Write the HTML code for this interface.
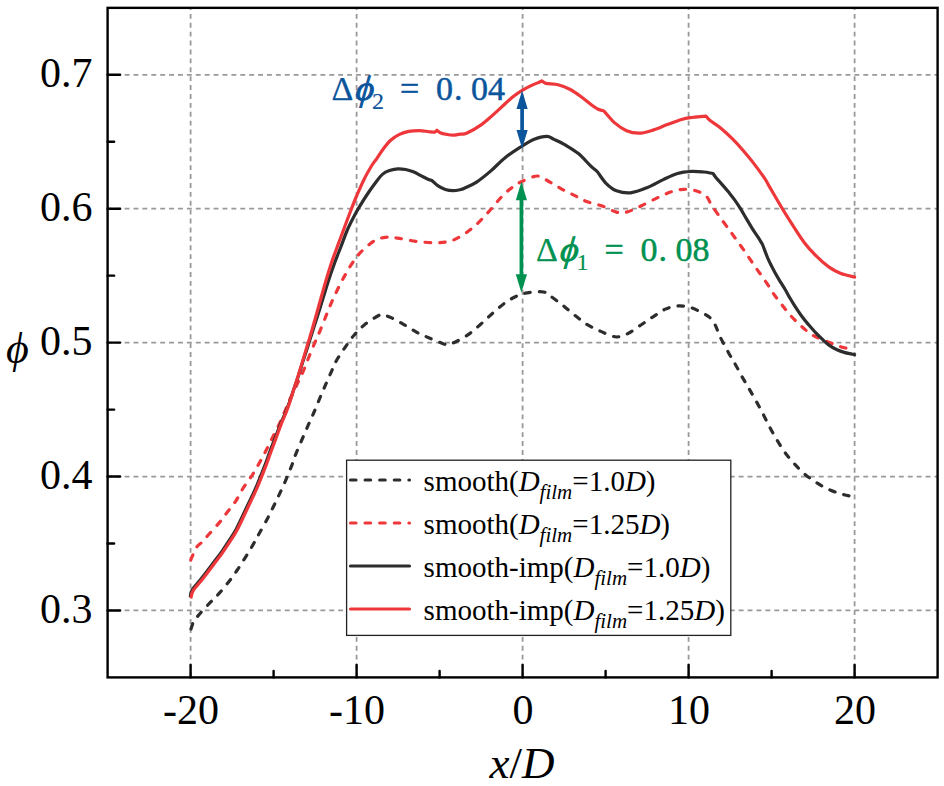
<!DOCTYPE html><html><head><meta charset="utf-8"><style>html,body{margin:0;padding:0;background:#fff;width:944px;height:786px;overflow:hidden}svg{display:block}text{font-family:"Liberation Serif",serif}</style></head><body>
<svg width="944" height="786" viewBox="0 0 944 786">
<rect width="944" height="786" fill="#fff"/>
<g stroke="#999999" stroke-width="1.8" stroke-dasharray="4.9 4.0" fill="none"><line x1="190.60" y1="677.40" x2="190.60" y2="7.85"/><line x1="356.60" y1="677.40" x2="356.60" y2="7.85"/><line x1="522.60" y1="677.40" x2="522.60" y2="7.85"/><line x1="688.60" y1="677.40" x2="688.60" y2="7.85"/><line x1="854.60" y1="677.40" x2="854.60" y2="7.85"/><line x1="107.60" y1="610.45" x2="937.60" y2="610.45" stroke-dashoffset="0.8"/><line x1="107.60" y1="476.53" x2="937.60" y2="476.53" stroke-dashoffset="0.8"/><line x1="107.60" y1="342.62" x2="937.60" y2="342.62" stroke-dashoffset="0.8"/><line x1="107.60" y1="208.72" x2="937.60" y2="208.72" stroke-dashoffset="0.8"/><line x1="107.60" y1="74.81" x2="937.60" y2="74.81" stroke-dashoffset="0.8"/></g>
<g fill="none" stroke-width="3.2" stroke-linecap="round" stroke-linejoin="round">
<path d="M191.0,629.0 C191.4,627.8 192.1,624.5 193.5,622.0 C194.9,619.5 196.8,617.3 199.6,614.0 C202.4,610.7 207.1,605.8 210.3,602.4 C213.6,599.0 216.1,596.8 219.1,593.4 C222.1,590.0 225.6,585.8 228.6,582.0 C231.6,578.2 234.2,574.5 236.9,570.5 C239.7,566.5 242.4,562.0 245.1,557.8 C247.8,553.6 250.5,549.1 252.8,545.1 C255.1,541.1 256.6,538.2 259.1,533.7 C261.6,529.2 265.3,522.6 267.8,517.9 C270.3,513.1 272.1,509.3 274.1,505.2 C276.1,501.1 277.9,497.5 279.9,493.1 C281.9,488.8 284.2,483.8 286.2,479.1 C288.2,474.4 290.3,469.2 291.9,465.1 C293.5,461.0 294.0,458.6 295.7,454.3 C297.4,450.0 299.9,444.4 302.0,439.5 C304.1,434.6 306.4,429.3 308.4,424.7 C310.4,420.1 312.2,416.4 314.1,412.0 C316.0,407.6 318.0,402.6 319.9,398.0 C321.8,393.4 323.7,389.1 325.6,384.7 C327.5,380.3 329.5,375.9 331.3,371.9 C333.1,367.9 334.2,364.6 336.5,360.5 C338.8,356.4 342.4,351.4 345.3,347.1 C348.2,342.9 351.0,338.7 354.2,335.0 C357.4,331.3 360.4,328.1 364.3,324.9 C368.2,321.7 374.7,317.7 377.7,316.0 C380.7,314.3 379.8,314.4 382.1,314.7 C384.4,315.0 388.0,316.2 391.7,317.9 C395.4,319.6 400.2,322.5 404.4,324.9 C408.6,327.3 412.9,330.3 417.1,332.5 C421.3,334.7 425.4,336.3 429.8,338.2 C434.2,340.1 440.8,342.8 443.8,343.9 C446.9,344.9 446.0,344.9 448.1,344.5 C450.2,344.1 452.9,343.2 456.3,341.5 C459.7,339.8 464.4,337.3 468.5,334.4 C472.6,331.5 476.6,327.8 480.7,324.2 C484.8,320.6 488.8,316.6 492.9,313.0 C497.0,309.4 501.4,305.5 505.1,302.8 C508.8,300.1 512.2,298.2 515.3,296.7 C518.4,295.2 520.5,294.4 523.5,293.6 C526.5,292.8 530.2,292.3 533.6,292.0 C537.0,291.7 541.1,291.4 543.8,292.0 C546.5,292.6 546.8,293.6 549.9,295.7 C553.0,297.8 558.0,301.6 562.1,304.8 C566.2,308.0 570.3,311.8 574.4,315.0 C578.5,318.2 582.3,321.5 586.6,324.2 C590.9,326.9 595.9,329.1 600.2,331.1 C604.5,333.1 609.4,335.2 612.4,336.2 C615.4,337.1 615.8,337.3 618.5,336.8 C621.2,336.3 625.0,335.1 628.7,333.1 C632.4,331.1 636.8,327.7 640.9,325.0 C645.0,322.3 649.0,319.4 653.1,316.8 C657.2,314.2 661.2,310.9 665.3,309.1 C669.4,307.3 673.4,306.3 677.5,306.0 C681.6,305.7 685.6,306.2 689.7,307.3 C693.8,308.4 698.6,310.9 702.0,312.7 C705.4,314.4 707.9,315.8 710.1,317.8 C712.3,319.9 713.5,321.8 715.2,325.0 C716.9,328.2 718.1,332.6 720.3,337.2 C722.5,341.8 725.9,347.8 728.4,352.4 C730.9,357.0 733.1,360.4 735.5,364.7 C737.9,368.9 740.4,373.8 742.7,377.9 C745.1,382.0 747.3,385.6 749.6,389.6 C751.9,393.6 754.3,397.8 756.7,402.1 C759.1,406.4 761.6,411.1 763.8,415.4 C766.0,419.7 767.9,423.7 770.1,427.9 C772.3,432.1 774.7,436.2 777.2,440.4 C779.7,444.5 782.4,448.9 785.2,452.8 C788.0,456.7 790.8,459.9 794.1,463.5 C797.4,467.1 800.9,470.9 804.8,474.2 C808.7,477.5 813.0,480.4 817.3,483.1 C821.6,485.8 826.1,488.3 830.6,490.2 C835.1,492.1 840.0,493.6 844.0,494.7 C848.0,495.8 852.8,496.4 854.6,496.8" stroke="#2d2d2d" stroke-dasharray="5.5 9.1"/>
<path d="M190.8,560.0 C191.2,558.9 192.5,555.6 193.5,553.4 C194.5,551.2 195.6,548.6 197.0,546.7 C198.4,544.8 199.9,544.3 201.9,542.2 C203.9,540.1 206.0,537.5 208.9,534.3 C211.8,531.1 216.0,526.6 219.1,522.9 C222.2,519.2 224.6,515.7 227.3,512.1 C230.1,508.5 232.9,505.4 235.6,501.3 C238.3,497.2 240.8,491.8 243.6,487.4 C246.4,483.0 249.6,479.2 252.3,475.0 C255.0,470.8 257.5,466.3 259.9,462.0 C262.3,457.7 264.6,453.3 266.8,449.0 C269.0,444.7 271.1,440.3 273.3,436.0 C275.5,431.7 277.8,427.4 279.8,423.0 C281.9,418.6 283.8,413.7 285.6,409.5 C287.4,405.3 288.5,402.4 290.5,398.0 C292.5,393.6 295.3,388.1 297.5,383.4 C299.7,378.7 301.9,374.3 303.9,369.7 C305.9,365.1 307.4,360.6 309.3,356.0 C311.2,351.4 313.2,346.4 315.0,342.2 C316.8,338.0 318.1,335.3 320.0,330.8 C321.9,326.3 324.3,320.1 326.3,315.2 C328.3,310.3 330.1,305.8 332.1,301.2 C334.1,296.6 336.2,292.2 338.4,287.8 C340.6,283.4 343.1,278.6 345.4,274.5 C347.7,270.4 349.8,266.8 352.4,263.0 C355.0,259.2 357.7,255.2 361.3,251.6 C364.9,247.9 370.0,243.5 374.0,241.1 C378.0,238.7 381.4,237.8 385.4,237.3 C389.3,236.8 392.6,237.5 397.7,238.2 C402.8,238.9 409.9,240.5 416.0,241.3 C422.1,242.1 429.0,242.7 434.4,242.8 C439.8,242.9 444.1,242.5 448.1,241.7 C452.1,240.8 454.6,239.7 458.3,237.7 C462.0,235.7 466.8,232.4 470.5,229.5 C474.2,226.6 477.3,223.8 480.7,220.4 C484.1,217.0 487.5,213.0 490.9,209.2 C494.3,205.4 497.7,200.9 501.1,197.4 C504.5,193.9 507.8,190.8 511.2,188.2 C514.6,185.6 517.0,183.7 521.4,181.7 C525.8,179.7 533.0,175.9 537.7,176.0 C542.5,176.1 545.8,179.9 549.9,182.1 C554.0,184.3 558.0,187.1 562.1,189.3 C566.2,191.5 570.3,193.4 574.4,195.4 C578.5,197.4 582.0,199.7 586.6,201.5 C591.2,203.3 597.2,204.2 602.2,206.0 C607.2,207.8 612.4,211.1 616.5,212.1 C620.6,213.1 622.5,213.1 626.6,212.1 C630.7,211.1 635.8,208.4 640.9,206.0 C646.0,203.6 652.1,200.3 657.2,197.9 C662.3,195.5 667.0,193.2 671.4,191.8 C675.8,190.4 679.5,189.5 683.6,189.3 C687.7,189.1 692.2,189.7 695.9,190.8 C699.6,191.9 703.3,193.4 706.0,195.9 C708.7,198.4 709.2,201.7 712.1,206.0 C715.0,210.3 719.9,217.1 723.3,221.8 C726.7,226.5 729.5,230.2 732.5,234.4 C735.5,238.6 738.7,242.9 741.6,247.0 C744.5,251.1 747.3,255.3 750.0,259.2 C752.7,263.1 755.0,266.5 757.7,270.3 C760.4,274.1 763.4,278.2 766.1,282.2 C768.8,286.2 771.2,290.4 773.8,294.1 C776.4,297.8 779.0,301.0 781.8,304.6 C784.6,308.2 787.4,312.1 790.7,315.7 C794.0,319.3 797.7,323.0 801.4,326.3 C805.1,329.6 808.5,332.7 813.0,335.3 C817.5,337.9 824.0,340.1 828.1,341.9 C832.2,343.6 834.7,344.8 837.8,345.8 C840.9,346.9 843.8,347.6 846.6,348.2 C849.4,348.8 853.3,349.1 854.6,349.3" stroke="#ee373a" stroke-dasharray="5.5 9.1"/>
<path d="M190.4,596.0 C190.7,595.0 190.6,592.4 192.2,589.8 C193.8,587.2 197.4,583.4 199.8,580.4 C202.2,577.4 204.3,574.7 206.8,571.5 C209.2,568.3 211.9,564.7 214.5,561.3 C217.1,557.9 219.6,554.7 222.1,551.1 C224.6,547.5 227.3,543.4 229.7,539.7 C232.1,536.0 234.0,533.3 236.3,529.0 C238.6,524.7 241.2,518.9 243.5,514.0 C245.8,509.1 248.1,504.4 250.4,499.5 C252.7,494.6 255.0,489.8 257.3,484.3 C259.7,478.8 262.4,471.7 264.5,466.3 C266.6,460.9 268.0,456.6 269.8,451.8 C271.6,447.0 273.5,442.2 275.4,437.4 C277.2,432.6 279.2,427.3 280.9,423.0 C282.6,418.8 284.2,415.9 285.8,411.9 C287.4,407.9 289.2,402.8 290.6,399.0 C291.9,395.3 292.4,393.4 293.7,389.5 C295.0,385.6 296.9,380.3 298.5,375.4 C300.1,370.5 301.7,365.3 303.3,360.2 C305.0,355.2 306.6,350.2 308.2,345.2 C309.8,340.1 310.9,336.5 313.0,330.0 C315.1,323.5 318.2,314.1 320.6,306.3 C323.0,298.5 325.3,290.6 327.6,283.4 C329.9,276.2 332.4,269.1 334.6,263.0 C336.8,256.9 338.9,252.0 341.0,246.5 C343.1,241.0 345.2,234.9 347.3,230.0 C349.4,225.1 351.6,220.9 353.7,216.9 C355.8,212.9 357.5,210.0 359.8,206.2 C362.1,202.4 364.9,197.8 367.5,194.0 C370.1,190.2 372.6,186.6 375.1,183.3 C377.6,180.0 380.1,176.3 382.7,174.1 C385.2,171.9 387.8,171.2 390.4,170.3 C392.9,169.4 395.5,168.9 398.0,168.8 C400.5,168.7 403.1,169.0 405.6,169.5 C408.2,170.0 410.8,170.8 413.3,171.8 C415.9,172.8 418.4,174.3 420.9,175.6 C423.4,176.9 426.7,178.7 428.5,179.5 C430.3,180.3 430.6,180.0 431.6,180.2 C433.6,182.0 435.4,184.1 437.7,185.6 C440.0,187.1 442.8,188.6 445.3,189.4 C447.9,190.2 450.6,190.6 453.0,190.6 C455.4,190.6 458.1,190.1 460.0,189.7 C461.9,189.3 461.6,189.5 464.4,188.2 C467.2,186.9 472.2,185.0 476.6,182.1 C481.0,179.2 486.1,175.0 490.9,170.9 C495.6,166.8 500.0,161.8 505.1,157.7 C510.2,153.6 516.6,149.6 521.4,146.5 C526.1,143.4 529.4,141.1 533.6,139.4 C537.9,137.7 543.5,136.3 546.9,136.3 C550.3,136.3 550.8,137.9 554.0,139.4 C557.2,140.9 562.1,143.1 566.2,145.5 C570.3,147.9 574.3,150.2 578.4,153.6 C582.5,157.0 587.5,162.9 590.6,165.9 C593.7,168.9 594.9,169.6 597.1,171.4 C600.2,175.5 603.1,180.4 606.3,183.6 C609.5,186.8 612.4,189.3 616.5,190.8 C620.6,192.3 625.6,193.3 630.7,192.8 C635.8,192.3 641.6,189.9 647.0,187.7 C652.4,185.5 658.2,182.0 663.3,179.6 C668.4,177.2 672.8,174.9 677.5,173.5 C682.2,172.1 687.4,171.7 691.8,171.4 C696.2,171.2 700.5,171.7 704.0,172.0 C707.5,172.3 710.0,173.0 713.0,173.5 C714.2,175.1 715.0,176.5 716.5,178.3 C718.0,180.2 720.1,182.2 722.2,184.6 C724.3,187.0 726.9,190.0 729.0,192.6 C731.1,195.2 732.9,197.4 734.8,200.1 C736.7,202.8 738.6,205.6 740.5,208.7 C742.4,211.8 744.3,215.2 746.2,218.4 C748.1,221.6 750.1,225.1 752.0,228.1 C753.9,231.1 756.0,234.0 757.7,236.7 C759.5,239.4 760.9,241.9 762.5,244.5 C764.4,249.4 766.1,254.4 768.2,259.2 C770.3,264.0 773.1,269.2 775.2,273.1 C777.3,277.0 779.2,279.9 780.9,282.7 C782.6,285.5 783.8,287.3 785.3,289.8 C786.8,292.3 788.1,295.0 789.8,297.8 C791.4,300.6 793.3,303.7 795.2,306.7 C797.1,309.7 799.2,312.7 801.4,315.7 C803.6,318.7 806.1,321.8 808.5,324.6 C810.9,327.4 813.2,330.1 815.6,332.6 C818.0,335.1 820.6,337.6 822.8,339.7 C825.0,341.8 826.6,343.4 829.0,345.1 C831.4,346.8 834.3,348.6 837.0,349.8 C839.7,351.1 842.1,351.8 845.0,352.6 C847.9,353.4 853.0,354.3 854.6,354.6" stroke="#2d2d2d"/>
<path d="M191.2,597.0 C191.5,596.0 191.4,593.4 193.0,590.8 C194.6,588.2 198.2,584.4 200.6,581.4 C203.0,578.4 205.1,575.7 207.6,572.5 C210.1,569.3 212.8,565.7 215.3,562.3 C217.9,558.9 220.4,555.7 222.9,552.1 C225.4,548.5 228.1,544.4 230.5,540.7 C232.9,537.0 234.8,534.3 237.1,530.0 C239.4,525.7 242.0,519.9 244.3,515.0 C246.7,510.1 248.9,505.4 251.2,500.5 C253.5,495.6 255.8,490.8 258.1,485.3 C260.5,479.8 263.2,472.7 265.3,467.3 C267.4,461.9 268.8,457.6 270.6,452.8 C272.4,448.0 274.2,443.1 276.0,438.3 C277.8,433.5 279.6,428.1 281.3,423.8 C283.0,419.5 284.4,416.6 286.0,412.6 C287.6,408.6 289.3,403.4 290.6,399.6 C291.9,395.8 292.3,394.0 293.6,390.0 C294.9,386.0 296.7,380.7 298.2,375.8 C299.7,370.9 301.3,365.6 302.8,360.5 C304.3,355.4 305.9,350.4 307.4,345.3 C308.9,340.2 310.1,336.5 312.0,330.0 C313.9,323.5 316.5,314.1 318.7,306.3 C320.9,298.5 323.0,290.6 325.1,283.4 C327.2,276.2 329.3,269.4 331.4,263.0 C333.5,256.6 335.8,250.8 337.8,245.3 C339.8,239.8 341.4,235.8 343.5,230.0 C345.6,224.2 348.5,216.6 350.7,210.8 C352.9,205.1 354.5,200.8 356.8,195.5 C359.1,190.2 361.8,183.8 364.4,178.7 C366.9,173.6 370.1,168.3 372.1,165.0 C374.1,161.7 374.8,161.5 376.6,158.9 C378.4,156.3 380.4,152.8 382.7,149.7 C385.0,146.6 387.6,143.1 390.4,140.5 C393.2,137.9 396.4,135.9 399.5,134.4 C402.6,132.9 405.4,132.0 408.7,131.4 C412.0,130.8 416.1,130.6 419.4,130.6 C422.7,130.6 425.9,131.4 428.5,131.7 C431.1,131.9 433.3,132.3 434.7,132.1 C436.1,131.8 436.2,130.8 436.9,130.2 C438.2,131.1 439.1,132.2 440.8,132.9 C442.5,133.6 444.9,134.0 446.9,134.4 C448.9,134.8 450.8,135.2 453.0,135.2 C455.2,135.1 457.8,134.4 460.0,134.1 C462.2,133.8 463.1,134.8 466.5,133.3 C469.9,131.8 476.3,128.2 480.7,125.1 C485.1,122.0 488.8,118.5 492.9,115.0 C497.0,111.5 501.7,106.9 505.1,103.8 C508.5,100.7 510.6,98.8 513.3,96.6 C516.0,94.4 518.3,92.8 521.4,90.9 C524.5,89.0 528.5,86.9 531.6,85.4 C534.7,83.9 538.0,82.8 539.7,82.0 C541.4,81.2 541.1,81.2 541.8,80.8 C543.2,81.7 543.2,82.7 545.9,83.4 C548.6,84.1 554.0,83.8 558.1,84.8 C562.2,85.8 566.2,87.3 570.3,89.5 C574.4,91.7 578.8,95.0 582.5,97.7 C586.2,100.4 590.1,103.9 592.7,105.8 C595.3,107.7 596.5,108.5 598.1,109.3 C599.7,110.1 600.8,110.0 602.2,110.4 C602.9,110.7 602.2,109.4 604.2,111.4 C606.2,113.4 610.7,119.4 614.4,122.6 C618.1,125.8 622.5,128.9 626.6,130.7 C630.7,132.5 634.8,133.2 638.9,133.2 C643.0,133.2 646.4,132.1 651.1,130.7 C655.9,129.3 662.3,126.5 667.4,124.6 C672.5,122.7 677.5,120.7 681.6,119.5 C685.7,118.3 687.7,118.1 691.8,117.5 C695.9,116.9 701.3,116.6 706.0,116.1 C707.4,117.6 707.7,118.6 710.1,120.5 C712.5,122.4 716.6,124.6 720.3,127.7 C724.0,130.8 728.8,135.2 732.5,138.9 C736.2,142.6 739.4,146.2 742.7,150.0 C746.0,153.8 748.6,156.7 752.2,161.4 C755.8,166.1 761.7,174.1 764.5,178.2 C767.3,182.3 767.5,183.3 769.0,185.9 C772.6,192.0 775.9,197.8 779.7,204.2 C783.5,210.6 787.9,217.7 792.0,224.1 C796.1,230.5 800.1,237.1 804.2,242.4 C808.3,247.8 812.3,252.1 816.4,256.2 C820.5,260.3 824.6,264.0 828.7,266.9 C832.8,269.8 836.6,271.9 840.9,273.6 C845.2,275.3 852.3,276.4 854.6,277.0" stroke="#ee373a"/>
</g>
<g stroke="#000" stroke-width="2.4" stroke-linecap="round"><line x1="190.60" y1="677.40" x2="190.60" y2="664.90"/><line x1="273.60" y1="677.40" x2="273.60" y2="670.90"/><line x1="356.60" y1="677.40" x2="356.60" y2="664.90"/><line x1="439.60" y1="677.40" x2="439.60" y2="670.90"/><line x1="522.60" y1="677.40" x2="522.60" y2="664.90"/><line x1="605.60" y1="677.40" x2="605.60" y2="670.90"/><line x1="688.60" y1="677.40" x2="688.60" y2="664.90"/><line x1="771.60" y1="677.40" x2="771.60" y2="670.90"/><line x1="854.60" y1="677.40" x2="854.60" y2="664.90"/><line x1="107.60" y1="610.45" x2="120.10" y2="610.45"/><line x1="107.60" y1="543.49" x2="114.10" y2="543.49"/><line x1="107.60" y1="476.53" x2="120.10" y2="476.53"/><line x1="107.60" y1="409.58" x2="114.10" y2="409.58"/><line x1="107.60" y1="342.62" x2="120.10" y2="342.62"/><line x1="107.60" y1="275.67" x2="114.10" y2="275.67"/><line x1="107.60" y1="208.71" x2="120.10" y2="208.71"/><line x1="107.60" y1="141.76" x2="114.10" y2="141.76"/><line x1="107.60" y1="74.81" x2="120.10" y2="74.81"/></g>
<rect x="107.60" y="7.85" width="830.00" height="669.55" fill="none" stroke="#000" stroke-width="2.4"/>
<text x="190.90" y="724" font-size="42" text-anchor="middle">-20</text>
<text x="356.90" y="724" font-size="42" text-anchor="middle">-10</text>
<text x="522.90" y="724" font-size="42" text-anchor="middle">0</text>
<text x="688.90" y="724" font-size="42" text-anchor="middle">10</text>
<text x="854.90" y="724" font-size="42" text-anchor="middle">20</text>
<text x="92.5" y="622.95" font-size="42" text-anchor="end">0.3</text>
<text x="92.5" y="489.03" font-size="42" text-anchor="end">0.4</text>
<text x="92.5" y="355.12" font-size="42" text-anchor="end">0.5</text>
<text x="92.5" y="221.22" font-size="42" text-anchor="end">0.6</text>
<text x="92.5" y="87.31" font-size="42" text-anchor="end">0.7</text>
<text x="521.9" y="778.3" font-size="45" text-anchor="middle"><tspan font-style="italic">x</tspan>/<tspan font-style="italic">D</tspan></text>
<text x="6" y="362.7" font-size="44" font-style="italic">&#x3d5;</text>
<rect x="346.6" y="460.2" width="384.2" height="175.2" fill="#fff" stroke="#222" stroke-width="1.3"/>
<line x1="350.5" y1="480.0" x2="409.5" y2="480.0" stroke="#2d2d2d" stroke-width="3.2" stroke-linecap="round" stroke-dasharray="5.5 9.1"/>
<text x="423.6" y="490.8" font-size="29">smooth(<tspan font-style="italic">D</tspan><tspan font-style="italic" font-size="21" dy="7.8">film</tspan><tspan dy="-7.8">=1.0</tspan><tspan font-style="italic">D</tspan>)</text>
<line x1="350.5" y1="523.0" x2="409.5" y2="523.0" stroke="#ee373a" stroke-width="3.2" stroke-linecap="round" stroke-dasharray="5.5 9.1"/>
<text x="423.6" y="533.8" font-size="29">smooth(<tspan font-style="italic">D</tspan><tspan font-style="italic" font-size="21" dy="7.8">film</tspan><tspan dy="-7.8">=1.25</tspan><tspan font-style="italic">D</tspan>)</text>
<line x1="350.5" y1="566.0" x2="409.5" y2="566.0" stroke="#2d2d2d" stroke-width="3.2" stroke-linecap="round"/>
<text x="423.6" y="576.8" font-size="29">smooth-imp(<tspan font-style="italic">D</tspan><tspan font-style="italic" font-size="21" dy="7.8">film</tspan><tspan dy="-7.8">=1.0</tspan><tspan font-style="italic">D</tspan>)</text>
<line x1="350.5" y1="609.0" x2="409.5" y2="609.0" stroke="#ee373a" stroke-width="3.2" stroke-linecap="round"/>
<text x="423.6" y="619.8" font-size="29">smooth-imp(<tspan font-style="italic">D</tspan><tspan font-style="italic" font-size="21" dy="7.8">film</tspan><tspan dy="-7.8">=1.25</tspan><tspan font-style="italic">D</tspan>)</text>
<g fill="#0b559c" stroke="none"><rect x="520.25" y="108.00" width="3.70" height="23.10"/><path d="M522.10,90.50 L516.50,109.00 L527.70,109.00 Z"/><path d="M522.10,148.60 L516.50,130.10 L527.70,130.10 Z"/></g>
<g fill="#009150" stroke="none"><rect x="519.55" y="199.20" width="3.70" height="76.10"/><path d="M521.40,181.70 L515.80,200.20 L527.00,200.20 Z"/><path d="M521.40,292.80 L515.80,274.30 L527.00,274.30 Z"/></g>
<g fill="#0b559c" stroke="#0b559c" stroke-width="0.5"><text x="331.6" y="100.0" font-size="34" stroke-width="0.25">&#x394;</text><text transform="translate(355.1,100.0) skewX(-6)" font-size="35" font-style="italic" stroke-width="1.0">&#x3d5;</text><text x="372.1" y="108.5" font-size="24" stroke-width="0.15">2</text><text x="400.1" y="100.0" font-size="34">=</text><text x="436.1" y="100.0" font-size="34">0</text><text x="454.1" y="100.0" font-size="34">.</text></g>
<text x="471" y="100" font-size="34" fill="#0b559c" stroke="#0b559c" stroke-width="0.5">04</text>
<g fill="#009150" stroke="#009150" stroke-width="0.5"><text x="536.0" y="261.2" font-size="34" stroke-width="0.25">&#x394;</text><text transform="translate(559.5,261.2) skewX(-6)" font-size="35" font-style="italic" stroke-width="1.0">&#x3d5;</text><text x="576.5" y="269.7" font-size="24" stroke-width="0.15">1</text><text x="604.5" y="261.2" font-size="34">=</text><text x="640.5" y="261.2" font-size="34">0</text><text x="658.5" y="261.2" font-size="34">.</text></g>
<text x="675.4" y="261.2" font-size="34" fill="#009150" stroke="#009150" stroke-width="0.5">08</text>
</svg></body></html>
